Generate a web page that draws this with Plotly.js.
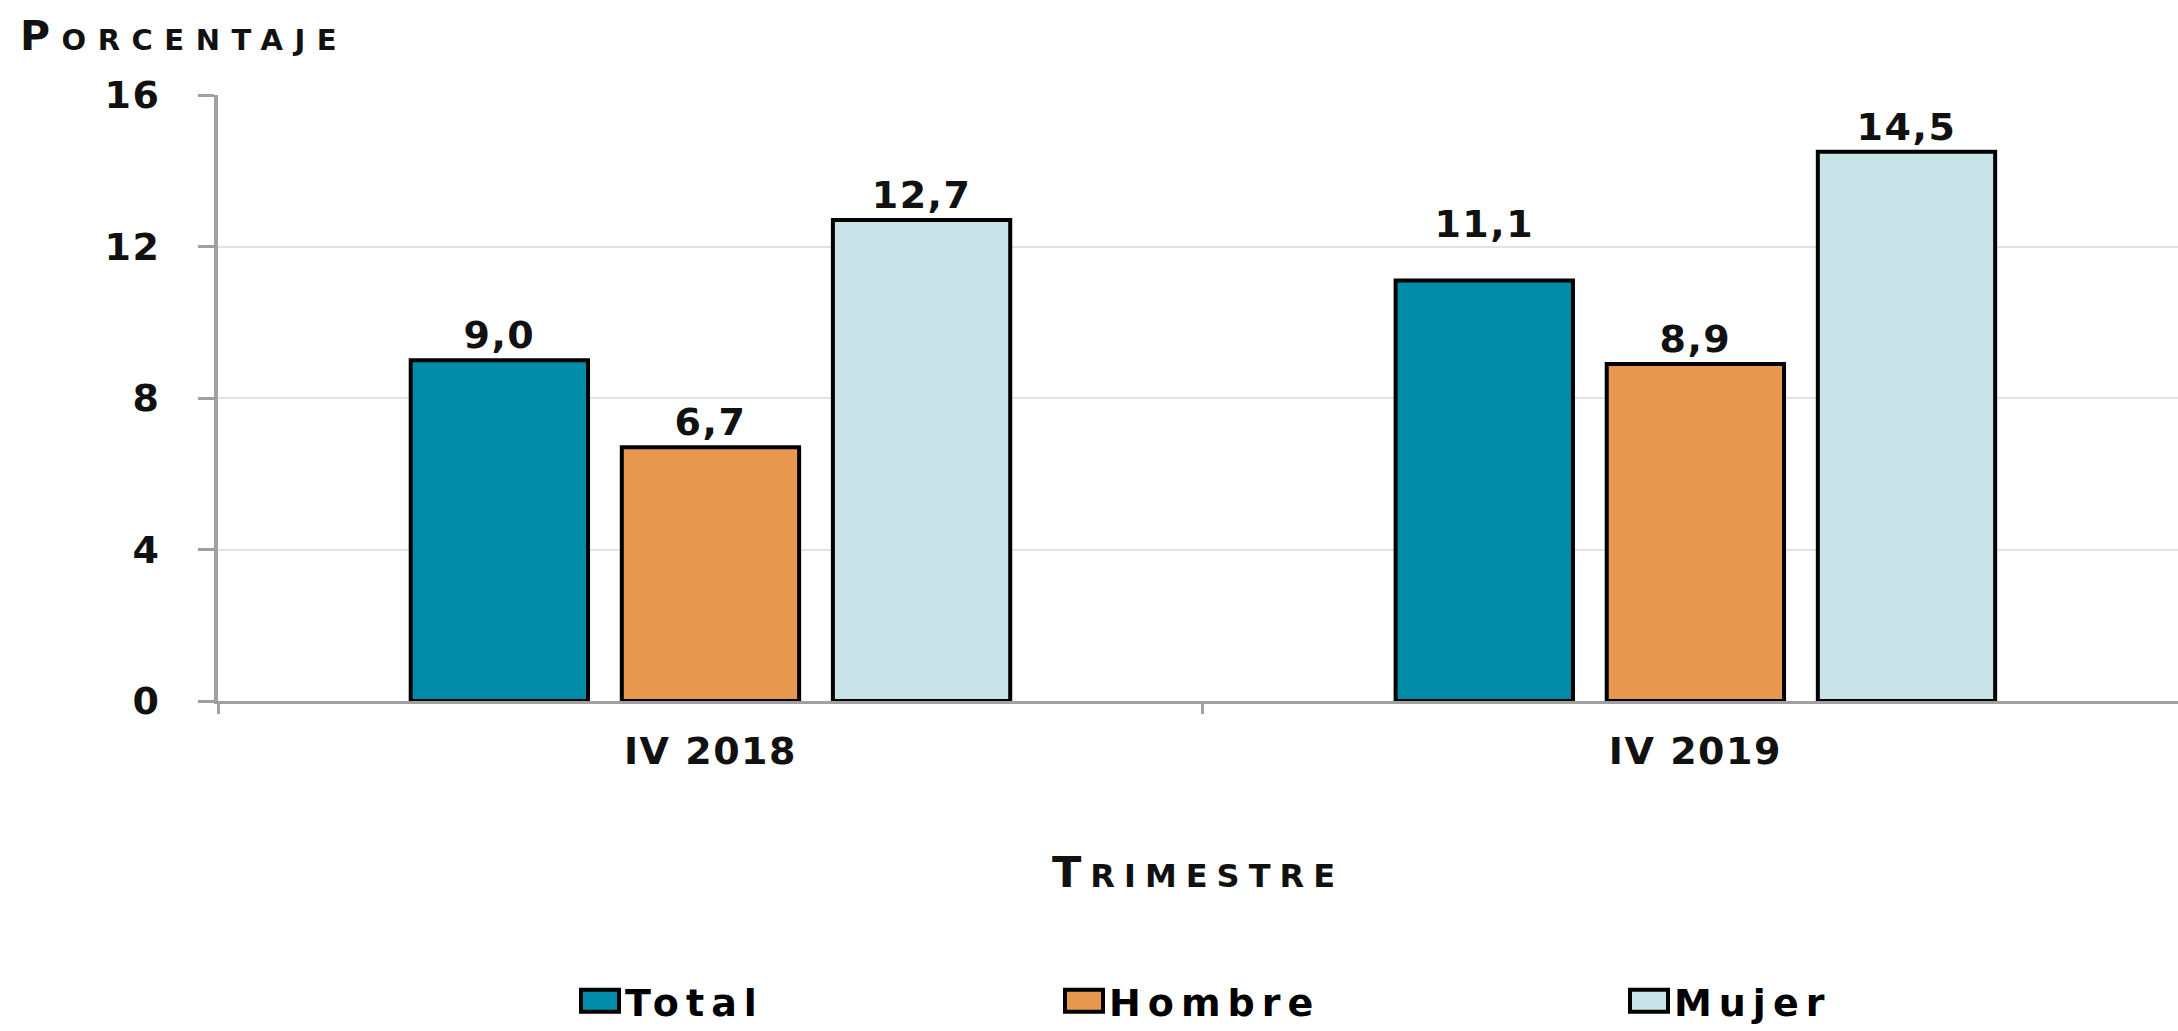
<!DOCTYPE html>
<html>
<head>
<meta charset="utf-8">
<script src="https://cdn.plot.ly/plotly-3.0.1.min.js"></script>
<style>
  html, body { margin: 0; padding: 0; background: #fff; }
  #chart { width: 2178px; height: 1031px; }
  .ytick text, .xtick text { letter-spacing: 1.5px; }
  .bartext { letter-spacing: 1.5px; }
  .g-xtitle text { letter-spacing: 9px; }
  .annotation-text { letter-spacing: 11.5px; }
</style>
</head>
<body>
<div id="chart"></div>
<script>
const categories = ['IV 2018', 'IV 2019'];
const seriesNames = ['Total', 'Hombre', 'Mujer'];
const totalValues = [9.0, 11.1];
const hombreValues = [6.7, 8.9];
const mujerValues = [12.7, 14.5];
const yTickValues = [0, 4, 8, 12, 16];

const colors = ['#008CA8', '#E8974E', '#C9E2E8'];
const valuesList = [totalValues, hombreValues, mujerValues];
const legendIds = ['legend', 'legend2', 'legend3'];
const legendX = [575, 1059, 1624];
// extra lift (px) of the value labels, as placed in the original chart
const labelLift = [[0, 32], [0, 0], [0, 0]];

const labelFont = { family: 'DejaVu Sans, sans-serif', size: 38, weight: 'bold', color: '#111' };
const titleFont = { family: 'DejaVu Sans, sans-serif', weight: 'bold', color: '#111' };

const traces = seriesNames.map((name, i) => ({
  type: 'bar',
  name: name,
  x: categories,
  y: valuesList[i],
  marker: { color: colors[i], line: { color: '#000', width: 4 } },
  text: valuesList[i].map(v => v.toFixed(1).replace('.', ',')),
  textposition: 'outside',
  textfont: labelFont,
  cliponaxis: false,
  hoverinfo: 'skip',
  showlegend: true,
  legend: legendIds[i]
}));

const legendBase = {
  visible: true,
  orientation: 'h',
  xref: 'container', yref: 'container',
  yanchor: 'middle', xanchor: 'left',
  y: 1 - 1001 / 1031,
  font: { family: 'DejaVu Sans, sans-serif', size: 38, weight: 'bold', color: '#000' },
  bgcolor: 'rgba(0,0,0,0)',
  itemwidth: 40,
  borderwidth: 0
};

const layout = {
  width: 2178,
  height: 1031,
  showlegend: true,
  margin: { l: 218, r: 0, t: 95, b: 330 },
  paper_bgcolor: '#fff',
  plot_bgcolor: '#fff',
  bargap: 0.357,
  bargroupgap: 0.16,
  barmode: 'group',
  xaxis: {
    type: 'category',
    range: [-0.5, 1.49],
    showline: true,
    linecolor: '#a0a0a0',
    linewidth: 3,
    ticks: 'outside',
    tickson: 'boundaries',
    ticklen: 10,
    tickwidth: 3,
    tickcolor: '#a0a0a0',
    showgrid: false,
    zeroline: false,
    tickfont: labelFont,
    ticklabelstandoff: 14,
    title: {
      text: 'T<span style="font-size:32px">RIMESTRE</span>',
      font: Object.assign({ size: 43 }, titleFont),
      standoff: 86
    }
  },
  yaxis: {
    range: [0, 16],
    tickvals: yTickValues,
    showline: true,
    linecolor: '#a0a0a0',
    linewidth: 4,
    ticks: 'outside',
    ticklen: 16,
    tickwidth: 3,
    tickcolor: '#a0a0a0',
    showgrid: true,
    gridcolor: '#e2e2e2',
    gridwidth: 2,
    zeroline: false,
    tickfont: labelFont,
    ticklabelstandoff: 30
  },
  annotations: [{
    text: 'P<span style="font-size:29px">ORCENTAJE</span>',
    xref: 'paper', yref: 'paper',
    x: (18 - 218) / 1960, y: (701 - 36) / 606,
    xanchor: 'left', yanchor: 'middle',
    showarrow: false,
    font: Object.assign({ size: 41 }, titleFont)
  }]
};
legendIds.forEach((id, i) => {
  layout[id] = Object.assign({}, legendBase, { x: legendX[i] / 2178 });
});

function styleLegend() {
  document.querySelectorAll('.legendpoints path').forEach(p => {
    p.setAttribute('d', 'M19,11H-19V-11H19Z');
  });
  document.querySelectorAll('svg text').forEach(t => {
    if (seriesNames.indexOf(t.textContent.trim()) >= 0) {
      t.style.letterSpacing = '7px';
    }
  });
  document.querySelectorAll('[clip-path]').forEach(el => {
    if (/legend/.test(el.getAttribute('clip-path'))) el.removeAttribute('clip-path');
  });
}

function liftLabels() {
  const traceGroups = document.querySelectorAll('.barlayer .trace');
  traceGroups.forEach((g, i) => {
    g.querySelectorAll('.point').forEach((pt, j) => {
      const lift = (labelLift[i] || [])[j] || 0;
      if (!lift) return;
      const t = pt.querySelector('text');
      if (!t) return;
      const tr = t.getAttribute('transform') || '';
      t.setAttribute('transform', 'translate(0,' + (-lift) + ') ' + tr);
    });
  });
}

const gd = document.getElementById('chart');
Plotly.newPlot(gd, traces, layout, { staticPlot: true }).then(() => {
  styleLegend();
  liftLabels();
  setTimeout(styleLegend, 50);
});
</script>
</body>
</html>
